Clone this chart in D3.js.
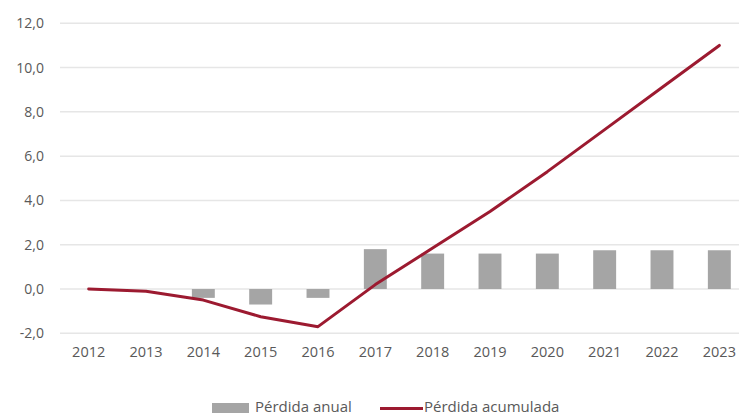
<!DOCTYPE html>
<html>
<head>
<meta charset="utf-8">
<script src="https://cdn.jsdelivr.net/npm/d3@7"></script>
<style>
  html, body { margin: 0; padding: 0; background: #fff; }
  svg { display: block; }
  text { font-family: "Open Sans", "Liberation Sans", sans-serif; fill: #595959; }
</style>
</head>
<body>
<svg id="chart" width="739" height="416"></svg>
<script>
// Years on the category axis
const years = ["2012","2013","2014","2015","2016","2017","2018","2019","2020","2021","2022","2023"];
// Annual loss (bars)
const perdidaAnual = [0, 0, -0.4, -0.7, -0.4, 1.8, 1.6, 1.6, 1.6, 1.75, 1.75, 1.75];
// Accumulated loss (line)
const perdidaAcumulada = [0, -0.1, -0.5, -1.25, -1.7, 0.2, 1.85, 3.5, 5.3, 7.2, 9.1, 11.0];
// Value-axis ticks
const yTicks = [-2, 0, 2, 4, 6, 8, 10, 12];
// Legend entries
const legendLabels = ["Pérdida anual", "Pérdida acumulada"];

const svg = d3.select("#chart");
const plot = { left: 60, right: 748, top: 23.3, bottom: 333.3 };

const x = d3.scaleBand().domain(years).range([plot.left, plot.right])
  .paddingInner(0.6).paddingOuter(0.3);
const y = d3.scaleLinear().domain([-2, 12]).range([plot.bottom, plot.top]);

const fmt = v => d3.format(".1f")(v).replace(".", ",").replace("−", "-");

// Horizontal gridlines
svg.append("g").selectAll("line").data(yTicks).join("line")
  .attr("x1", plot.left).attr("x2", plot.right)
  .attr("y1", d => y(d)).attr("y2", d => y(d))
  .attr("stroke", "#e6e6e6").attr("stroke-width", 1.5);

// Value axis labels
const yAxis = d3.axisLeft(y).tickValues(yTicks).tickFormat(fmt).tickSize(0).tickPadding(0);
svg.append("g").attr("transform", "translate(44,0)").call(yAxis)
  .call(g => g.select(".domain").remove())
  .call(g => g.selectAll("text").attr("fill", "#595959")
    .style("font-size", "14px").style("font-family", "'Open Sans', sans-serif"));

// Category axis labels
const xAxis = d3.axisBottom(x).tickSize(0).tickPadding(0);
svg.append("g").attr("transform", "translate(0,347)").call(xAxis)
  .call(g => g.select(".domain").remove())
  .call(g => g.selectAll("text").attr("fill", "#595959")
    .style("font-size", "14.5px").style("font-family", "'Open Sans', sans-serif"));

// Annual loss bars
svg.append("g").selectAll("rect").data(years).join("rect")
  .attr("x", d => x(d))
  .attr("width", x.bandwidth())
  .attr("y", (d, i) => y(Math.max(0, perdidaAnual[i])))
  .attr("height", (d, i) => Math.abs(y(perdidaAnual[i]) - y(0)))
  .attr("fill", "#a5a5a5");

// Accumulated loss line
const line = d3.line()
  .x((d, i) => x(years[i]) + x.bandwidth() / 2)
  .y(d => y(d));
svg.append("path").datum(perdidaAcumulada)
  .attr("d", line)
  .attr("fill", "none")
  .attr("stroke", "#9c1a30")
  .attr("stroke-width", 3)
  .attr("stroke-linejoin", "round")
  .attr("stroke-linecap", "round");

// Legend
const lg = svg.append("g");
lg.append("rect").attr("x", 212).attr("y", 403).attr("width", 37).attr("height", 10).attr("fill", "#a5a5a5");
lg.append("text").attr("x", 255).attr("y", 412).style("font-size", "15px").text(legendLabels[0]);
lg.append("line").attr("x1", 380).attr("x2", 423).attr("y1", 408.5).attr("y2", 408.5)
  .attr("stroke", "#9c1a30").attr("stroke-width", 3);
lg.append("text").attr("x", 424).attr("y", 412).style("font-size", "15px").text(legendLabels[1]);
</script>
</body>
</html>
